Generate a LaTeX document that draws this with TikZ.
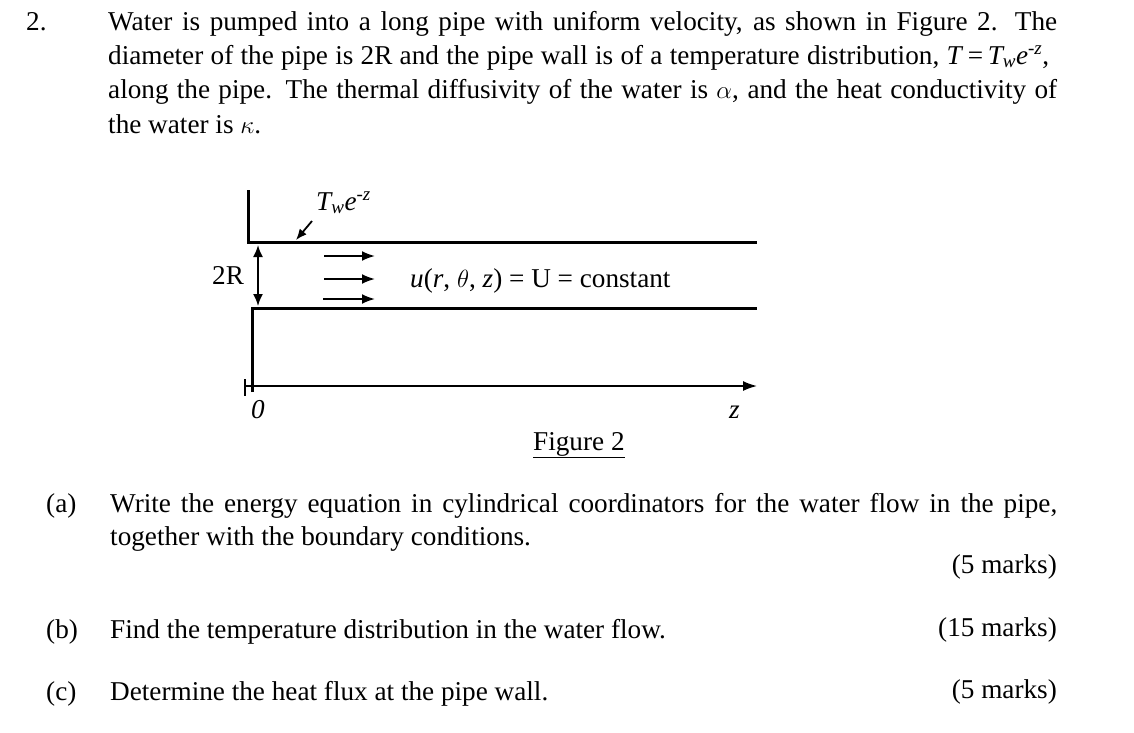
\documentclass[tikz,border=0pt]{standalone}
\usepackage{fontspec}
\setmainfont{Liberation Serif}
\usetikzlibrary{arrows.meta}
\begin{document}
\begin{tikzpicture}[x=1pt,y=-1pt,
  txt/.style={anchor=base west,inner sep=0pt,font=\fontsize{27.2}{30}\selectfont},
  wall/.style={line width=3pt},
  arr/.style={line width=2pt,-{Latex[length=13pt,width=10pt]}}]
\useasboundingbox (0,0) rectangle (1134,732);
\node[txt] (n2) at (26,30) {2.};
\node[txt] (l1) at (108,30) {\makebox[949pt][s]{Water is pumped into a long pipe with uniform velocity, as shown in Figure 2. The}};
\node[txt] (l2) at (108,64) {\makebox[941pt][s]{diameter of the pipe is 2R and the pipe wall is of a temperature distribution, \textit{T}\,=\,\textit{T\textsubscript{w}e}\textsuperscript{-\textit{z}},}};
\node[txt] (l3) at (108,98) {\makebox[949pt][s]{along the pipe. The thermal diffusivity of the water is $\alpha$, and the heat conductivity of}};
\node[txt] (l4) at (108,133) {the water is $\kappa$.};
% figure
\coordinate (a1) at (248,190); \coordinate (a2) at (248,242); \coordinate (a3) at (757,242);
\coordinate (b1) at (252,392); \coordinate (b2) at (252,308); \coordinate (b3) at (757,308);
\draw[wall] (a1) -- (a2) -- (a3);
\draw[wall] (b1) -- (b2) -- (b3);
\coordinate (d1) at (258,245); \coordinate (d2) at (258,306);
\draw[line width=1.8pt,{Latex[length=12pt,width=10pt]}-{Latex[length=12pt,width=10pt]}] (d1) -- (d2);
\node[txt] (r2) at (212,284) {2R};
\foreach \yy/\xs in {256/324,279/324,299/323} \draw[arr] (\xs,\yy) -- (375,\yy);
\node[txt] (u) at (410,287) {\textit{u}(\textit{r}, $\theta$, \textit{z}) = U = constant};
\node[txt] (tw) at (316,210) {\textit{T\textsubscript{w}e}\textsuperscript{-\textit{z}}};
\coordinate (p1) at (312,221); \coordinate (p2) at (296,240);
\draw[line width=1.8pt,-{Latex[length=11pt,width=9pt]}] (p1) -- (p2);
\coordinate (z0) at (245,386); \coordinate (z1) at (757,386);
\draw[line width=1.6pt,-{Latex[length=14pt,width=10pt]}] (z0) -- (z1);
\draw[line width=1.6pt] (245,379) -- (245,396);
\node[txt] (zero) at (251,418) {\textit{0}};
\node[txt] (zl) at (729,418) {\textit{z}};
\node[txt] (fig) at (533,450) {\underline{Figure 2}};
% questions
\node[txt] (qa) at (46,512) {(a)};
\node[txt] (qa1) at (110,512) {\makebox[947pt][s]{Write the energy equation in cylindrical coordinators for the water flow in the pipe,}};
\node[txt] (qa2) at (110,545) {together with the boundary conditions.};
\node[txt,anchor=base east] (ma) at (1057,573) {(5 marks)};
\node[txt] (qb) at (46,638) {(b)};
\node[txt] (qb1) at (110,638) {Find the temperature distribution in the water flow.};
\node[txt,anchor=base east] (mb) at (1057,636) {(15 marks)};
\node[txt] (qc) at (46,700) {(c)};
\node[txt] (qc1) at (110,700) {Determine the heat flux at the pipe wall.};
\node[txt,anchor=base east] (mc) at (1057,698) {(5 marks)};
\end{tikzpicture}
\end{document}
